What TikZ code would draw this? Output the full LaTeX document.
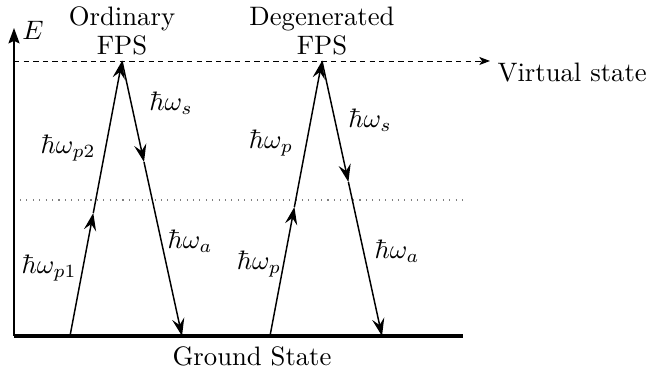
\documentclass[tikz,border=0pt]{standalone}
\usetikzlibrary{arrows.meta}
\begin{document}
\begin{tikzpicture}[x=0.01317cm,y=-0.01317cm,
  photon/.style={line width=0.55pt,-{Stealth[length=6.6pt,width=4.6pt,inset=2.4pt]}},
  lbl/.style={inner sep=0pt}]
\useasboundingbox (0,0) rectangle (651,372);
% axes and levels
\coordinate (g0) at (14,336);
\coordinate (g1) at (463,336);
\coordinate (etop) at (14,28);
\coordinate (v0) at (14,61);
\coordinate (v1) at (490,61);
\coordinate (d0) at (20,200);
\coordinate (d1) at (463,200);
\draw[line width=0.5pt,-{Stealth[length=5.8pt,width=4.2pt,inset=1pt]}] (g0) -- (etop);
\node[lbl] (E) at (33,30) {$E$};
\draw[dotted,gray,line width=0.4pt] (d0) -- (d1);
\draw[line width=0.35pt,dash pattern=on 2pt off 1.6pt,-{Stealth[length=4pt,width=3pt,inset=1pt]}] (v0) -- (v1);
\node[lbl,anchor=west] (vs) at (497,73) {Virtual state};
\draw[line width=1.7pt] (g0) -- (g1);
\node[lbl] (gs) at (252,356) {Ground State};
% ordinary FPS
\coordinate (oa) at (70,336);
\coordinate (ob) at (93.3,213);
\coordinate (oc) at (122,61);
\coordinate (od) at (144,162);
\coordinate (oe) at (182,336);
\draw[photon] (oa) -- (ob);
\draw[photon] (ob) -- (oc);
\draw[photon] (oc) -- (od);
\draw[photon] (od) -- (oe);
\node[lbl,align=center] (ot) at (122,31) {Ordinary\\[-1pt]FPS};
\node[lbl] (op1) at (49,268) {$\hbar\omega_{p1}$};
\node[lbl] (op2) at (68,148) {$\hbar\omega_{p2}$};
\node[lbl] (os) at (171,103) {$\hbar\omega_s$};
\node[lbl] (oi) at (190,241) {$\hbar\omega_a$};
% degenerated FPS
\coordinate (da) at (270,336);
\coordinate (db) at (294.4,207);
\coordinate (dc) at (322,61);
\coordinate (dd) at (348.4,182);
\coordinate (de) at (382,336);
\draw[photon] (da) -- (db);
\draw[photon] (db) -- (dc);
\draw[photon] (dc) -- (dd);
\draw[photon] (dd) -- (de);
\node[lbl,align=center] (dt) at (322,31) {Degenerated\\[-1pt]FPS};
\node[lbl] (dp1) at (259,264) {$\hbar\omega_p$};
\node[lbl] (dp2) at (271,143) {$\hbar\omega_p$};
\node[lbl] (ds) at (370,120) {$\hbar\omega_s$};
\node[lbl] (di) at (397,251) {$\hbar\omega_a$};
\end{tikzpicture}
\end{document}
